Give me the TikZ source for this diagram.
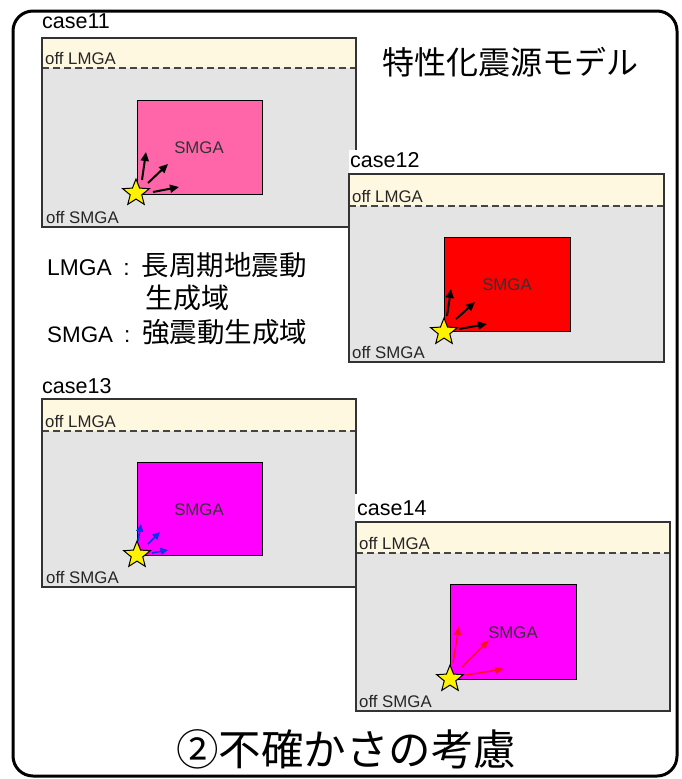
\documentclass[tikz,border=0pt]{standalone}
\usepackage{fontspec}
\setmainfont{Liberation Sans}
\newfontfamily\latinf{Liberation Sans}
\newfontfamily\cjkf{Noto Sans CJK JP}
\usetikzlibrary{shapes.geometric,arrows.meta,calc}
\definecolor{boxgray}{HTML}{E4E4E4}
\definecolor{bandcream}{HTML}{FFF8E1}
\definecolor{boxline}{HTML}{333333}
\definecolor{dashgray}{HTML}{444444}
\definecolor{smgapink}{HTML}{FF66AA}
\definecolor{smgared}{HTML}{FF0000}
\definecolor{smgamag}{HTML}{FF00FF}
\definecolor{arrblue}{HTML}{1030F0}
\definecolor{arrred}{HTML}{FF1020}
\tikzset{
  casebox/.style={draw=boxline, line width=1.8pt},
  grayfill/.style={fill=boxgray},
  band/.style={fill=bandcream},
  dashln/.style={dash pattern=on 7pt off 4pt, line width=1.3pt, draw=dashgray},
  smga/.style={draw=black, line width=1pt},
  lbl/.style={font=\latinf\fontsize{16.8}{18}\selectfont, inner sep=0pt, anchor=base west, text=black!85},
  smgatxt/.style={font=\latinf\fontsize{16.8}{18}\selectfont, inner sep=0pt, text=black!80},
  caselbl/.style={font=\latinf\fontsize{21.5}{23}\selectfont, inner sep=0pt, anchor=base west},
  starnode/.style={star, star points=5, star point ratio=2.3, minimum size=28pt, inner sep=0pt, fill=yellow, draw=black, line width=1pt},
  arrblack/.style={line width=2pt, draw=black, -{Triangle[length=9pt,width=8pt]}},
  arrb/.style={line width=1.7pt, draw=arrblue, -{Triangle[length=7.5pt,width=7pt]}},
  arrr/.style={line width=1.5pt, draw=arrred, -{Triangle[length=9pt,width=7pt]}},
  whitebg/.style={fill=white},
}
\begin{document}
\begin{tikzpicture}[x=1pt,y=-1pt]
\useasboundingbox (0,0) rectangle (681,779);
\fill[white] (0,0) rectangle (681,779);
% outer frame
\draw[line width=3pt, rounded corners=20pt] (13,11) rectangle (677,776);

% ---------------- case11
\node[caselbl] (c11) at (42,28) {case11};
\fill[grayfill] (42,38) rectangle (356,227);
\fill[band] (42,38) rectangle (356,68);
\draw[dashln] (42,68) -- (356,68);
\draw[smga, fill=smgapink] (137,100) rectangle (262,194);
\draw[casebox] (42,38) rectangle (356,227);
\node[lbl] (l11) at (45,64.5) {off LMGA};
\node[lbl] (o11) at (46,223) {off SMGA};
\node[smgatxt] (t11) at (199,148) {SMGA};
\coordinate (s11) at (136,193);
\draw[arrblack] ($(s11)+(6,-13)$) -- ($(s11)+(10,-41)$);
\draw[arrblack] ($(s11)+(12,-10)$) -- ($(s11)+(32,-29)$);
\draw[arrblack] ($(s11)+(17,-1)$) -- ($(s11)+(43,-6)$);
\node[starnode] (st11) at (s11) {};

% ---------------- case12
\fill[whitebg] (349,150) rectangle (664,174);
\node[caselbl] (c12) at (350,167) {case12};
\fill[grayfill] (349,174) rectangle (664,362);
\fill[band] (349,174) rectangle (664,206);
\draw[dashln] (349,206) -- (664,206);
\draw[smga, fill=smgared] (444,237) rectangle (570,331);
\draw[casebox] (349,174) rectangle (664,362);
\node[lbl] (l12) at (352,202.5) {off LMGA};
\node[lbl] (o12) at (352,358) {off SMGA};
\node[smgatxt] (t12) at (507,285) {SMGA};
\coordinate (s12) at (444,332);
\draw[arrblack] ($(s12)+(3,-16)$) -- ($(s12)+(7,-43)$);
\draw[arrblack] ($(s12)+(12,-13)$) -- ($(s12)+(31,-30)$);
\draw[arrblack] ($(s12)+(15,-3)$) -- ($(s12)+(43,-8)$);
\node[starnode] (st12) at (s12) {};

% ---------------- case13
\node[caselbl] (c13) at (42,393) {case13};
\fill[grayfill] (42,399) rectangle (356,587);
\fill[band] (42,399) rectangle (356,431);
\draw[dashln] (42,431) -- (356,431);
\draw[smga, fill=smgamag] (137,462) rectangle (262,555);
\draw[casebox] (42,399) rectangle (356,587);
\node[lbl] (l13) at (45,427.5) {off LMGA};
\node[lbl] (o13) at (46,583) {off SMGA};
\node[smgatxt] (t13) at (199,510) {SMGA};
\coordinate (s13) at (137,555);
\draw[arrb] ($(s13)+(1,-14)$) -- ($(s13)+(4,-31)$);
\draw[arrb] ($(s13)+(11,-11)$) -- ($(s13)+(23,-23)$);
\draw[arrb] ($(s13)+(15,-2)$) -- ($(s13)+(31,-5)$);
\node[starnode] (st13) at (s13) {};

% ---------------- case14
\fill[whitebg] (355,494) rectangle (670,522);
\node[caselbl] (c14) at (357,515) {case14};
\fill[grayfill] (356,522) rectangle (670,711);
\fill[band] (356,522) rectangle (670,553);
\draw[dashln] (356,553) -- (670,553);
\draw[smga, fill=smgamag] (450,584) rectangle (576,679);
\draw[casebox] (356,522) rectangle (670,711);
\node[lbl] (l14) at (359,549.5) {off LMGA};
\node[lbl] (o14) at (359,707) {off SMGA};
\node[smgatxt] (t14) at (513,633) {SMGA};
\coordinate (s14) at (450,679);
\draw[arrr] ($(s14)+(3,-16)$) -- ($(s14)+(9,-53)$);
\draw[arrr] ($(s14)+(12,-12)$) -- ($(s14)+(39,-39)$);
\draw[arrr] ($(s14)+(16,-4)$) -- ($(s14)+(54,-10)$);
\node[starnode] (st14) at (s14) {};

% ---------------- texts
\node[inner sep=0pt, font=\cjkf\fontsize{32}{34}\selectfont] (title) at (510,62) {特性化震源モデル};
\node[inner sep=0pt, anchor=base west] (row1) at (47,275) {{\latinf\fontsize{22.8}{24}\selectfont LMGA\hspace{11.5pt}:\hspace{12pt}}{\cjkf\fontsize{27.5}{29}\selectfont 長周期地震動}};
\node[inner sep=0pt, anchor=base west, font=\cjkf\fontsize{28}{30}\selectfont] (row2) at (145,308) {生成域};
\node[inner sep=0pt, anchor=base west] (row3) at (47,342) {{\latinf\fontsize{22.4}{24}\selectfont SMGA\hspace{11pt}:\hspace{12pt}}{\cjkf\fontsize{27.5}{29}\selectfont 強震動生成域}};
\node[inner sep=0pt, font=\cjkf\fontsize{42.5}{44}\selectfont] (bottom) at (346,749) {②不確かさの考慮};
\end{tikzpicture}
\end{document}
